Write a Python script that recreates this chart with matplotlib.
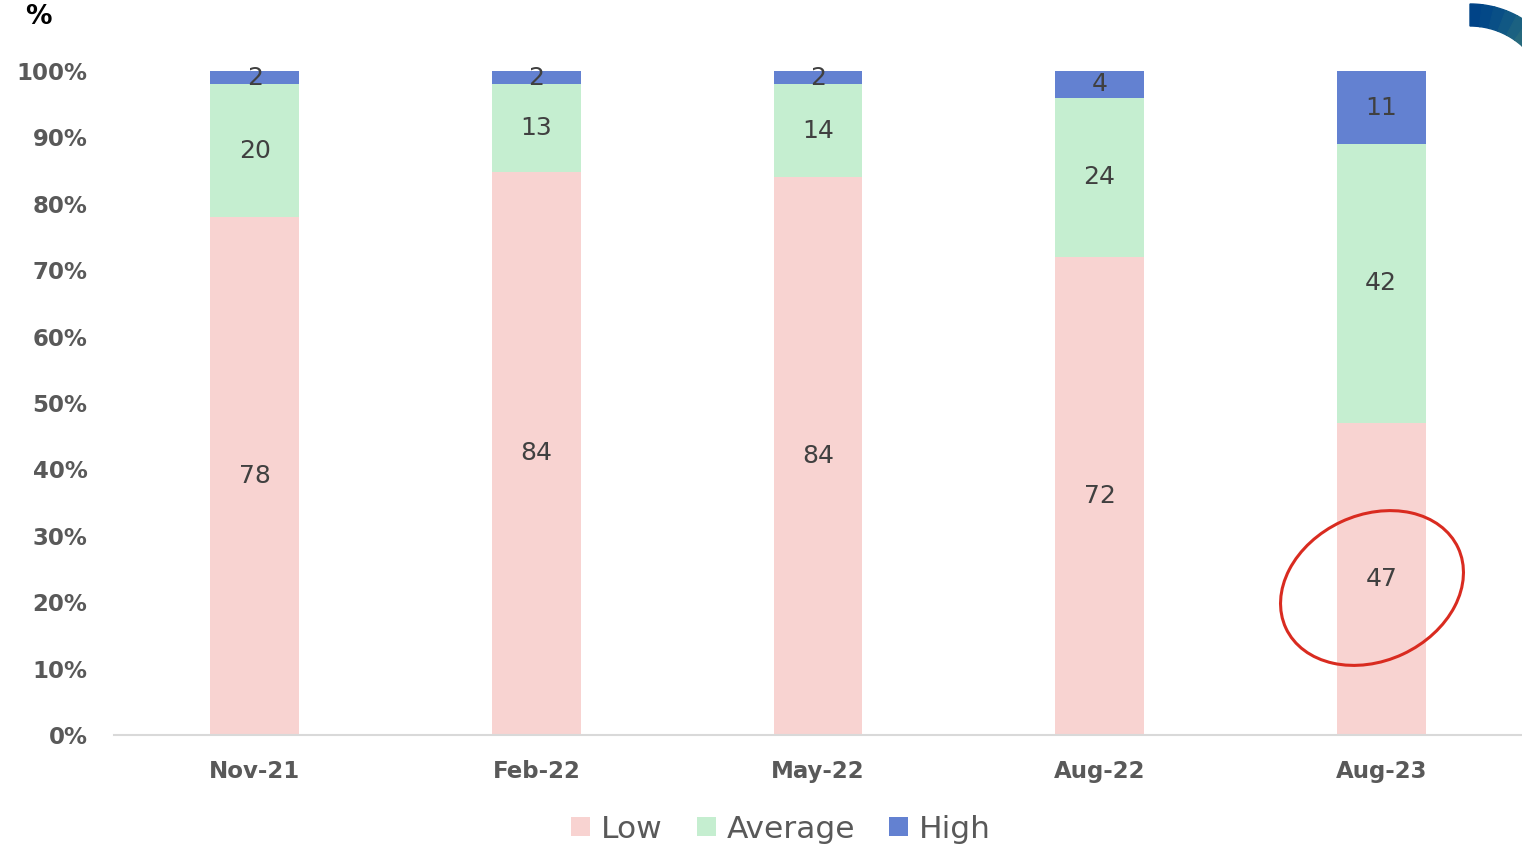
import matplotlib
matplotlib.use("Agg")
import matplotlib.pyplot as plt
import numpy as np
from matplotlib.patches import Ellipse, Wedge
from matplotlib.transforms import IdentityTransform

# Survey shares by wave (values as printed on the chart)
categories = ["Nov-21", "Feb-22", "May-22", "Aug-22", "Aug-23"]
low = [78, 84, 84, 72, 47]
average = [20, 13, 14, 24, 42]
high = [2, 2, 2, 4, 11]
series_names = ["Low", "Average", "High"]
yticks = [0, 10, 20, 30, 40, 50, 60, 70, 80, 90, 100]

colors = ["#F8D3D1", "#C5EED0", "#6381D1"]
plt.rcParams['font.family'] = ['DejaVu Sans']

fig = plt.figure(figsize=(15.22, 8.47), dpi=100)
ax = fig.add_axes([114 / 1522, (847 - 735) / 847, 1 - 114 / 1522, (735 - 71) / 847])

data = np.array([low, average, high], dtype=float)
shares = data / data.sum(axis=0) * 100
x = np.arange(len(categories))
bottom = np.zeros(len(categories))
for name, raw, vals, c in zip(series_names, data, shares, colors):
    ax.bar(x, vals, bottom=bottom, width=0.315, color=c, label=name, clip_on=False)
    for xi, b, v, r in zip(x, bottom, vals, raw):
        ax.text(xi, b + v / 2, f"{int(r)}", ha="center", va="center",
                fontsize=18, color="#404040")
    bottom += vals

ax.set_xlim(-0.5, len(categories) - 0.5)
ax.set_ylim(0, 100)
ax.set_xticks(x)
ax.set_xticklabels(categories, fontsize=16.5, fontweight="bold", color="#595959")
ax.set_yticks(yticks)
ax.set_yticklabels([f"{t}%" for t in yticks], fontsize=16.5, fontweight="bold", color="#595959")
ax.tick_params(length=0)
ax.tick_params(axis="x", pad=18)
ax.tick_params(axis="y", pad=19)
for s in ["top", "right", "left"]:
    ax.spines[s].set_visible(False)
ax.spines["bottom"].set_color("#D9D9D9")
ax.spines["bottom"].set_linewidth(1.5)

fig.text(38 / 1522, 1 - 17 / 847, "%", ha="center", va="center",
         fontsize=19, fontweight="bold", color="black")

leg = fig.legend(loc="center", bbox_to_anchor=(781 / 1522, 1 - 829 / 847), ncol=3,
                 frameon=False, fontsize=22.5, handlelength=0.6, handleheight=0.6,
                 handletextpad=0.35, columnspacing=1.1, labelcolor="#595959")

# red highlight ring around the last "Low" value
ring = Ellipse((1372, 847 - 588), 190, 146, angle=25, fill=False,
               edgecolor="#D92B20", linewidth=2.2, transform=IdentityTransform())
fig.patches.append(ring)

# corner swoosh
shades = ["#004387", "#034887", "#094f86", "#115884", "#1b6181", "#26697d", "#2e7078"]
for i, c in enumerate(shades):
    t1 = 90 - i * 7
    fig.patches.append(Wedge((1470, 847 - 104), 100, t1 - 7.5, t1, width=22,
                             color=c, transform=IdentityTransform()))

fig.savefig("out.png", dpi=100)
